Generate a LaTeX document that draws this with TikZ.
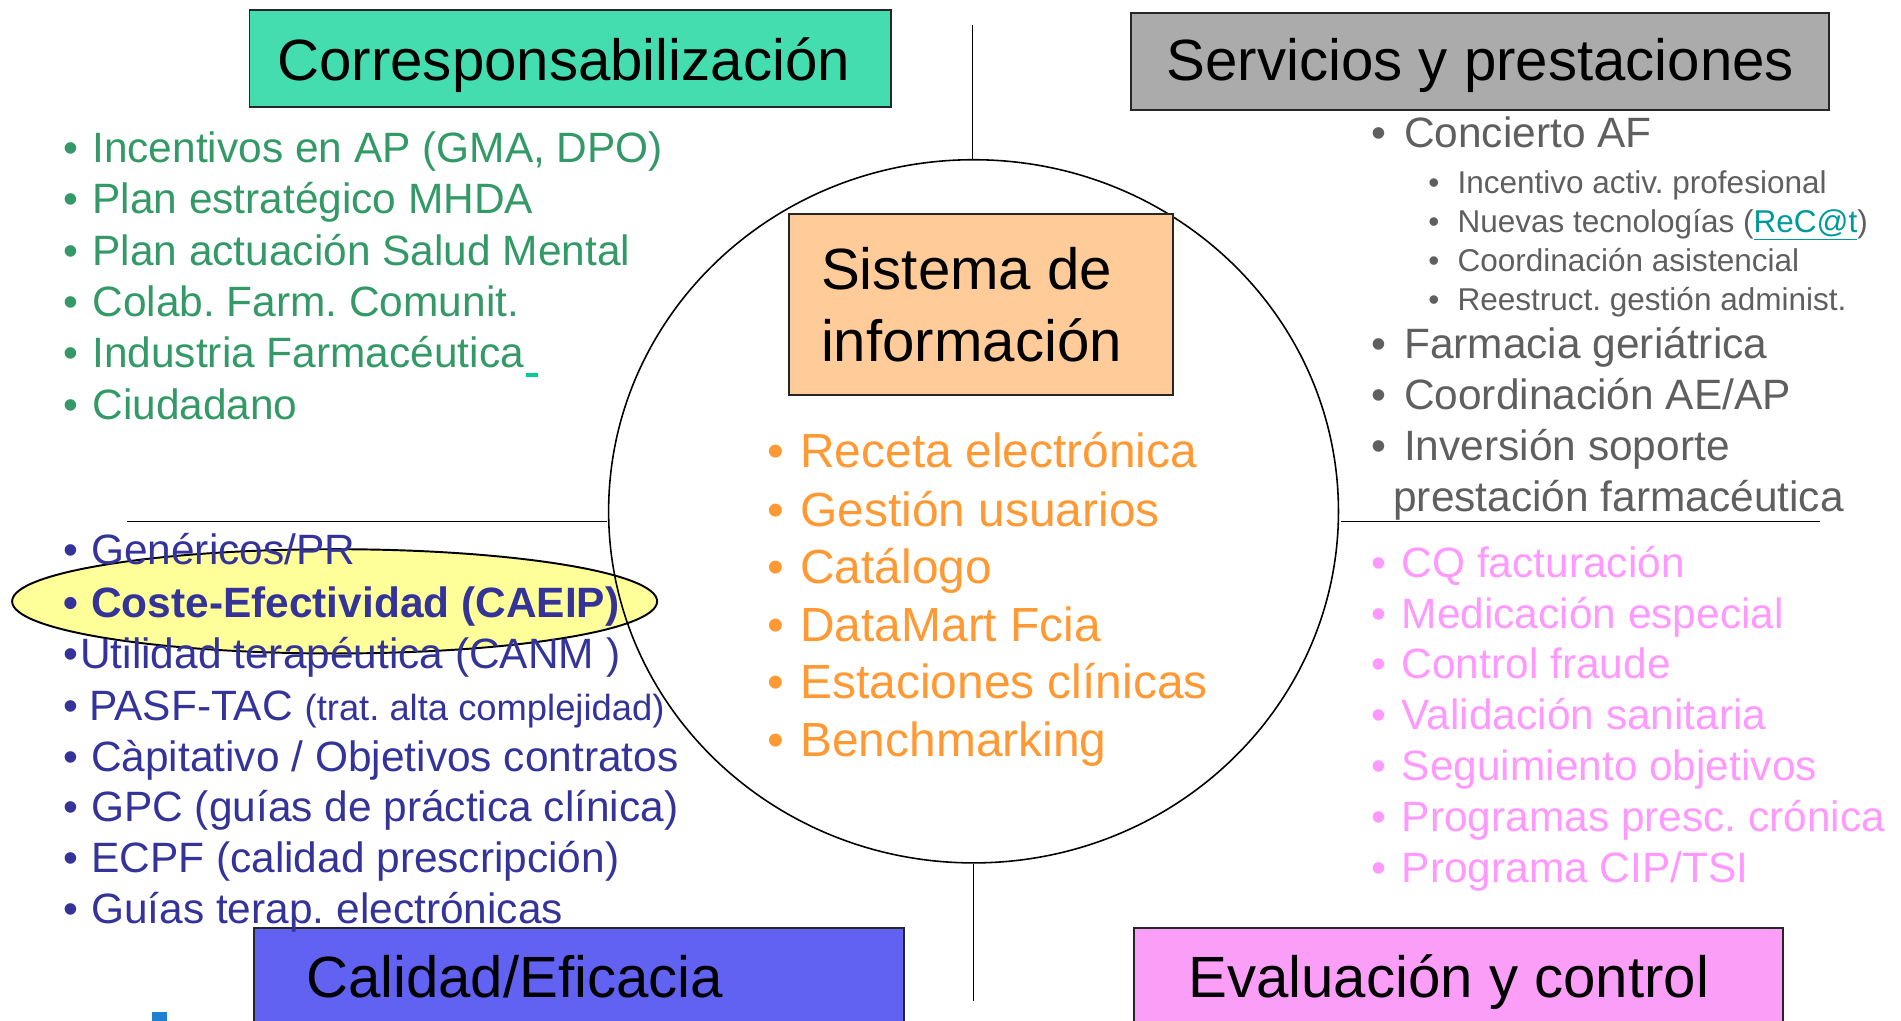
\documentclass[tikz,border=0pt]{standalone}
\usepackage{fontspec}
\setmainfont{Liberation Sans}
\usetikzlibrary{shapes.geometric}
\definecolor{cgreen}{HTML}{339966}
\definecolor{cgray}{HTML}{5F5F5F}
\definecolor{cblue}{HTML}{333399}
\definecolor{corange}{HTML}{FF9933}
\definecolor{cpink}{HTML}{FF99FF}
\definecolor{clink}{HTML}{009999}
\definecolor{cunder}{HTML}{00CC99}
\definecolor{tealbox}{HTML}{44DDB0}
\definecolor{graybox}{HTML}{ABABAB}
\definecolor{bluebox}{HTML}{6262F2}
\definecolor{pinkbox}{HTML}{FA9EF8}
\definecolor{peach}{HTML}{FFCC99}
\definecolor{yell}{HTML}{FFFF99}
\definecolor{logoblue}{HTML}{1E80D0}
\newcommand\bul[1]{\makebox[#1pt][l]{•}}
\frenchspacing
\begin{document}
\frenchspacing
\begin{tikzpicture}[x=1pt,y=-1pt,
  boxshape/.style={draw=black!85, line width=1.6pt, inner sep=0pt, anchor=north west},
  title/.style={anchor=base, inner sep=0pt, font=\fontsize{48}{56}\selectfont},
  itm/.style={anchor=base west, inner sep=0pt, font=\fontsize{35}{42}\selectfont},
  subitm/.style={anchor=base west, inner sep=0pt, font=\fontsize{26}{30}\selectfont},
  bigitm/.style={anchor=base west, inner sep=0pt, font=\fontsize{39.5}{48}\selectfont},
  divline/.style={line width=1.3pt, black}]
\useasboundingbox (0,0) rectangle (1568,842);
\begin{scope}
\clip (0,0) rectangle (1568,842);

% quadrant title boxes
\node[boxshape, fill=tealbox, minimum width=529pt, minimum height=80pt] (corrbox) at (205,7.7) {};
\node[title] (corrtxt) at (465,66) {Corresponsabilización};
\node[boxshape, fill=graybox, minimum width=576pt, minimum height=80pt] (servbox) at (932,9.6) {};
\node[title] (servtxt) at (1221,66) {Servicios y prestaciones};
\node[boxshape, fill=bluebox, minimum width=536pt, minimum height=100pt] (calbox) at (209,764.5) {};
\node[title] (caltxt) at (424.5,823) {Calidad/Eficacia};
\node[boxshape, fill=pinkbox, minimum width=535.5pt, minimum height=100pt] (evalbox) at (934.5,764.5) {};
\node[title] (evaltxt) at (1195,823) {Evaluación y control};

% small logo fragment
\fill[logoblue] (125,835) rectangle (138,842);

% yellow highlight ellipse
\node[ellipse, draw=black, line width=1.6pt, fill=yell, minimum width=532pt, minimum height=86pt, inner sep=0pt] (hl) at (276,496) {};

% central circle and dividers
\node[ellipse, draw=black, line width=1.3pt, minimum width=602pt, minimum height=580pt, inner sep=0pt] (circ) at (803,421.75) {};
\coordinate (topend) at (802,20.6);
\coordinate (botend) at (803,826);
\coordinate (lstart) at (105,430);
\coordinate (lend) at (501,430);
\coordinate (rstart) at (1106,430);
\coordinate (rend) at (1501,430);
\draw[divline] (topend) -- (topend |- circ.north);
\draw[divline] (circ.south) -- (botend);
\draw[divline] (lstart) -- (lend);
\draw[divline] (rstart) -- (rend);

% central box
\node[boxshape, line width=1.4pt, fill=peach, minimum width=317pt, minimum height=149pt] (sibox) at (650,176) {};
\node[anchor=base west, inner sep=0pt, font=\fontsize{48}{56}\selectfont] (si1) at (677,239) {Sistema de};
\node[anchor=base west, inner sep=0pt, font=\fontsize{48}{56}\selectfont] (si2) at (677,298.5) {información};

% orange list
\begin{scope}[every node/.style={bigitm, text=corange}]
\node (o1) at (633,386) {\bul{27}Receta electrónica};
\node (o2) at (633,434) {\bul{27}Gestión usuarios};
\node (o3) at (633,481) {\bul{27}Catálogo};
\node (o4) at (633,529) {\bul{27}DataMart Fcia};
\node (o5) at (633,576) {\bul{27}Estaciones clínicas};
\node (o6) at (633,624) {\bul{27}Benchmarking};
\end{scope}

% green list
\begin{scope}[every node/.style={itm, text=cgreen}]
\node (g1) at (52.3,134) {\bul{23.7}Incentivos en AP (GMA, DPO)};
\node (g2) at (52.3,176) {\bul{23.7}Plan estratégico MHDA};
\node (g3) at (52.3,219) {\bul{23.7}Plan actuación Salud Mental};
\node (g4) at (52.3,261) {\bul{23.7}Colab. Farm. Comunit.};
\node (g5) at (52.3,303) {\bul{23.7}Industria Farmacéutica};
\node (g6) at (52.3,346) {\bul{23.7}Ciudadano};
\end{scope}
\fill[cunder] (434,308) rectangle (444,311);

% gray list
\begin{scope}[every node/.style={itm, text=cgray}]
\node (s1) at (1131,122) {\bul{27}Concierto AF};
\node (s6) at (1131,296) {\bul{27}Farmacia geriátrica};
\node (s7) at (1131,338) {\bul{27}Coordinación AE/AP};
\node (s8) at (1131,380) {\bul{27}Inversión soporte};
\node (s9) at (1149,422) {prestación farmacéutica};
\end{scope}
\begin{scope}[every node/.style={subitm, text=cgray}]
\node (s2) at (1178,160) {\bul{24}Incentivo activ. profesional};
\node (s3) at (1178,192) {\bul{24}Nuevas tecnologías ({\color{clink}\underline{ReC@t}})};
\node (s4) at (1178,224) {\bul{24}Coordinación asistencial};
\node (s5) at (1178,256) {\bul{24}Reestruct. gestión administ.};
\end{scope}

% blue list
\begin{scope}[every node/.style={itm, text=cblue}]
\node (b1) at (52.3,466) {\bul{22.7}Genéricos/PR};
\node[font=\fontsize{35}{42}\selectfont\bfseries] (b2) at (52.3,509) {\bul{22.7}Coste-Efectividad (CAEIP)};
\node (b3) at (52.3,551) {\bul{13.7}Utilidad terapéutica (CANM )};
\node (b4) at (52.3,594) {\bul{21.2}PASF-TAC {\fontsize{30}{34}\selectfont(trat. alta complejidad)}};
\node (b5) at (52.3,636) {\bul{22.7}Càpitativo / Objetivos contratos};
\node (b6) at (52.3,678) {\bul{22.7}GPC (guías de práctica clínica)};
\node (b7) at (52.3,720) {\bul{22.7}ECPF (calidad prescripción)};
\node (b8) at (52.3,762) {\bul{22.7}Guías terap. electrónicas};
\end{scope}

% pink list
\begin{scope}[every node/.style={itm, text=cpink}]
\node (p1) at (1131,476) {\bul{25}CQ facturación};
\node (p2) at (1131,518) {\bul{25}Medicación especial};
\node (p3) at (1131,560) {\bul{25}Control fraude};
\node (p4) at (1131,602) {\bul{25}Validación sanitaria};
\node (p5) at (1131,644) {\bul{25}Seguimiento objetivos};
\node (p6) at (1131,686) {\bul{25}Programas presc. crónica};
\node (p7) at (1131,728) {\bul{25}Programa CIP/TSI};
\end{scope}
\end{scope}
\end{tikzpicture}
\end{document}
